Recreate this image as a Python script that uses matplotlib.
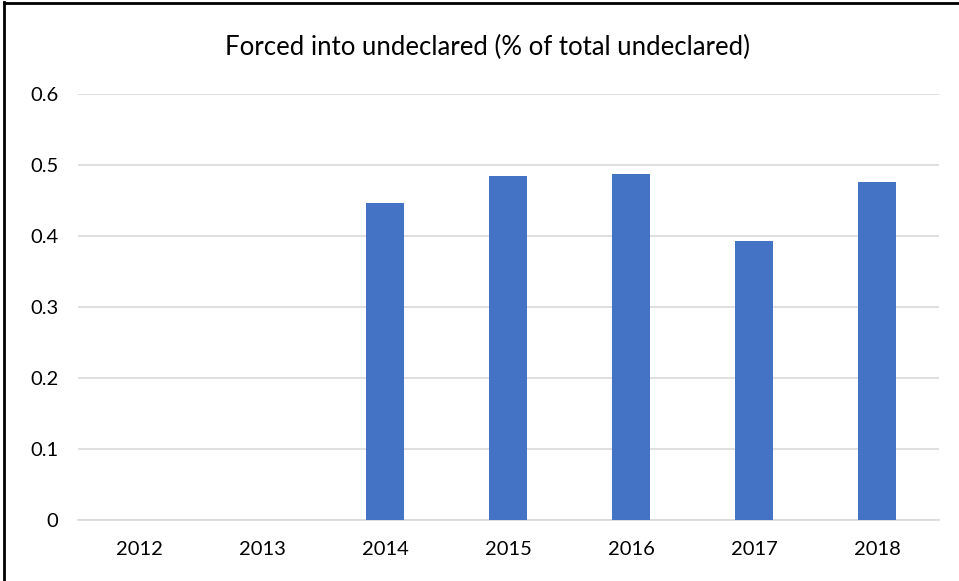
import matplotlib.pyplot as plt
from matplotlib.lines import Line2D

# data
years = ["2012", "2013", "2014", "2015", "2016", "2017", "2018"]
values = [None, None, 0.446, 0.485, 0.488, 0.393, 0.476]
y_ticks = [0, 0.1, 0.2, 0.3, 0.4, 0.5, 0.6]
y_labels = ["0", "0.1", "0.2", "0.3", "0.4", "0.5", "0.6"]
title = "Forced into undeclared (% of total undeclared)"

plt.rcParams['font.family'] = ['Lato', 'DejaVu Sans']

fig = plt.figure(figsize=(9.59, 5.81), dpi=100)
ax = fig.add_axes([0.0813, 0.105, 0.8977, 0.733])

xs = [i for i, v in enumerate(values) if v is not None]
hs = [v for v in values if v is not None]
ax.bar(xs, hs, width=0.31, color="#4472C4", zorder=3)

ax.set_xlim(-0.5, len(years) - 0.5)
ax.set_ylim(0, 0.6)
ax.set_xticks(range(len(years)))
ax.set_xticklabels(years, fontsize=14.5, color="#000000")
ax.set_yticks(y_ticks)
ax.set_yticklabels(y_labels, fontsize=14.5, color="#000000")
ax.tick_params(axis="both", length=0)
ax.tick_params(axis="y", pad=14)
ax.tick_params(axis="x", pad=15)
ax.grid(axis="y", color="#d9d9d9", linewidth=1.2, zorder=0)
for s in ["top", "right", "left"]:
    ax.spines[s].set_visible(False)
ax.spines["bottom"].set_color("#d9d9d9")
ax.spines["bottom"].set_linewidth(1.2)

fig.text(0.508, 0.918, title, ha="center", va="center", fontsize=18.5)

# black frame (left and top edges visible)
fig.add_artist(Line2D([0.004, 0.004], [0, 0.996], transform=fig.transFigure, color="black", lw=2))
fig.add_artist(Line2D([0.004, 1.0], [0.995, 0.995], transform=fig.transFigure, color="black", lw=2))

fig.savefig("out.png", dpi=100)
